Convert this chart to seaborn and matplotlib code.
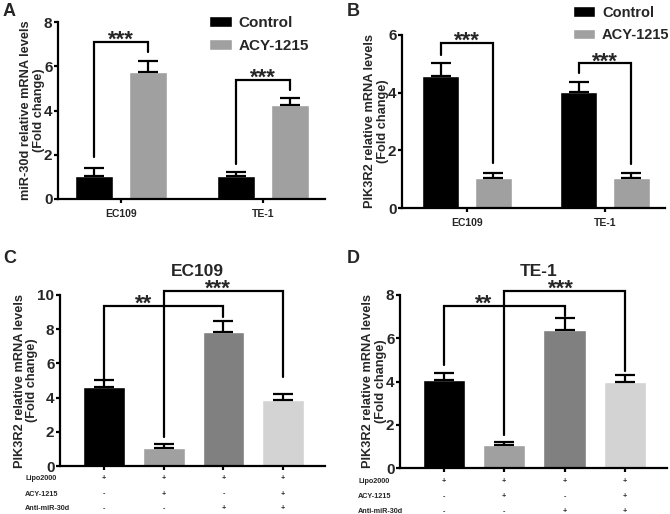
import matplotlib
matplotlib.use("Agg")
import matplotlib.pyplot as plt
import pandas as pd
import seaborn as sns

# panels A and B: two cell lines, control vs ACY-1215
cell_lines = ["EC109", "TE-1"]
treatments = ["Control", "ACY-1215"]
treat_colors = ["#000000", "#a0a0a0"]

a_control = [1.05, 1.05]
a_control_sd = [0.33, 0.17]
a_acy = [5.75, 4.25]
a_acy_sd = [0.47, 0.33]
# (group index, bracket top, left leg bottom, right leg bottom, label)
a_brackets = [(0, 7.1, 1.88, 6.65, "***"), (1, 5.4, 1.56, 4.92, "***")]

b_control = [4.58, 4.04]
b_control_sd = [0.46, 0.34]
b_acy = [1.04, 1.04]
b_acy_sd = [0.19, 0.17]
b_brackets = [(0, 5.73, 5.3, 1.56, "***"), (1, 5.02, 4.69, 1.53, "***")]

# panels C and D: four transfection groups
conditions = ["Lipo2000", "Lipo2000+ACY", "Lipo2000+anti", "Lipo2000+ACY+anti"]
cond_colors = ["#000000", "#a0a0a0", "#808080", "#d3d3d3"]
row_labels = ["Lipo2000", "ACY-1215", "Anti-miR-30d"]
row_lipo = ["+", "+", "+", "+"]
row_acy = ["-", "+", "-", "+"]
row_anti = ["-", "-", "+", "+"]

c_mean = [4.62, 1.07, 7.83, 3.88]
c_sd = [0.43, 0.21, 0.64, 0.35]
# (left bar, right bar, top, left bottom, right bottom, label, label x)
c_brackets = [(0, 2, 9.38, 4.91, 8.74, "**", 0.66), (1, 3, 10.25, 1.71, 5.2, "***", 1.9)]

d_mean = [4.05, 1.05, 6.38, 3.97]
d_sd = [0.33, 0.15, 0.54, 0.31]
d_brackets = [(0, 2, 7.51, 4.78, 7.05, "**", 0.65), (1, 3, 8.2, 1.51, 4.5, "***", 1.94)]

W, H = 670, 514
LW = 1.6

sns.set_style("ticks")
plt.rcParams["font.family"] = ["Liberation Sans", "DejaVu Sans"]
plt.rcParams["font.weight"] = "bold"
plt.rcParams["axes.labelweight"] = "bold"
plt.rcParams["axes.linewidth"] = LW
plt.rcParams["axes.edgecolor"] = "black"

fig = plt.figure(figsize=(W / 100, H / 100), dpi=100)


def px_axes(left, top, right, bottom):
    return fig.add_axes([left / W, (H - bottom) / H, (right - left) / W, (bottom - top) / H])


def style_axes(ax, ymax, ylabel, xsize):
    ax.set_ylim(0, ymax)
    ax.set_yticks(range(0, ymax + 1, 2))
    sns.despine(ax=ax)
    ax.tick_params(axis="both", width=LW, length=3, color="black")
    ax.tick_params(axis="y", labelsize=11, pad=1)
    ax.tick_params(axis="x", labelsize=xsize, pad=4)
    for t in ax.get_yticklabels() + ax.get_xticklabels():
        t.set_fontweight("bold")
    ax.set_xlabel("")
    ax.set_ylabel(ylabel, fontsize=9.2, fontweight="bold", linespacing=1.05, labelpad=-0.5)


def add_errors(ax, xs, means, sds):
    for x, m, s in zip(xs, means, sds):
        ax.errorbar(x, m, yerr=[[0], [s]], fmt="none", ecolor="black",
                    elinewidth=LW, capsize=7, capthick=LW, zorder=3)


def bracket(ax, xl, xr, top, lb, rb, label, lx):
    ax.plot([xl, xl, xr, xr], [lb, top, top, rb], color="black", lw=LW,
            clip_on=False, solid_joinstyle="miter", zorder=4)
    ax.annotate(label, (lx, top), xytext=(0, -3), textcoords="offset points",
                ha="center", va="baseline", fontsize=16, fontweight="bold",
                annotation_clip=False)


def grouped_panel(ax, control, control_sd, acy, acy_sd, brackets, ymax, ylabel, xlim):
    df = pd.DataFrame({
        "line": cell_lines * 2,
        "group": [treatments[0]] * 2 + [treatments[1]] * 2,
        "value": control + acy,
    })
    sns.barplot(data=df, x="line", y="value", hue="group", order=cell_lines,
                hue_order=treatments, palette=treat_colors, saturation=1,
                width=0.76, gap=0.3, errorbar=None, ax=ax)
    centers = []
    for cont, sds in zip(ax.containers, [control_sd, acy_sd]):
        xs = [b.get_x() + b.get_width() / 2 for b in cont]
        hs = [b.get_height() for b in cont]
        add_errors(ax, xs, hs, sds)
        centers.append(xs)
    for g, top, lb, rb, lab in brackets:
        xl, xr = centers[0][g], centers[1][g]
        bracket(ax, xl, xr, top, lb, rb, lab, (xl + xr) / 2)
    ax.set_xlim(*xlim)
    style_axes(ax, ymax, ylabel, 7.5)


def condition_panel(ax, means, sds, brackets, ymax, title, xlim, label_x):
    df = pd.DataFrame({"cond": conditions, "value": means})
    sns.barplot(data=df, x="cond", y="value", hue="cond", order=conditions,
                palette=cond_colors, saturation=1, width=0.7, errorbar=None,
                legend=False, ax=ax)
    bars = sorted(ax.patches, key=lambda b: b.get_x())
    xs = [b.get_x() + b.get_width() / 2 for b in bars]
    add_errors(ax, xs, [b.get_height() for b in bars], sds)
    for l, r, top, lb, rb, lab, lx in brackets:
        bracket(ax, xs[l], xs[r], top, lb, rb, lab, lx)
    ax.set_xlim(*xlim)
    style_axes(ax, ymax, "PIK3R2 relative mRNA levels\n(Fold change)", 7)
    ax.set_xticklabels([])
    ax.set_title(title, fontsize=12.5, fontweight="bold", pad=14, x=0.52)
    trans = ax.get_xaxis_transform()
    for row_y, label, marks in zip([-0.076, -0.164, -0.251], row_labels,
                                   [row_lipo, row_acy, row_anti]):
        ax.text(label_x, row_y, label, transform=ax.transAxes, ha="left",
                va="center", fontsize=5.2, fontweight="bold")
        for x, m in zip(xs, marks):
            ax.text(x, row_y, m, transform=trans, ha="center", va="center",
                    fontsize=5.2, fontweight="bold")


def add_legend(ax, anchor, size):
    h, l = ax.get_legend_handles_labels()
    ax.legend(h, l, frameon=False, loc="upper left", bbox_to_anchor=anchor,
              fontsize=size, handlelength=1.5, handleheight=0.72,
              handletextpad=0.45, labelspacing=0.6, borderpad=0, borderaxespad=0)


ax_a = px_axes(58, 22, 325, 199)
grouped_panel(ax_a, a_control, a_control_sd, a_acy, a_acy_sd, a_brackets, 8,
              "miR-30d relative mRNA levels\n(Fold change)", (-0.444, 1.437))
add_legend(ax_a, (0.565, 1.035), 11)

ax_b = px_axes(402, 35, 665, 208)
grouped_panel(ax_b, b_control, b_control_sd, b_acy, b_acy_sd, b_brackets, 6,
              "PIK3R2 relative mRNA levels\n(Fold change)", (-0.471, 1.435))
add_legend(ax_b, (0.652, 1.17), 10.5)

ax_c = px_axes(60, 295, 325, 466)
condition_panel(ax_c, c_mean, c_sd, c_brackets, 10, "EC109", (-0.737, 3.70), -0.132)

ax_d = px_axes(400, 295, 667, 468)
condition_panel(ax_d, d_mean, d_sd, d_brackets, 8, "TE-1", (-0.73, 3.70), -0.157)

for x, y, letter in [(3, 3, "A"), (347, 3, "B"), (3, 250, "C"), (347, 250, "D")]:
    fig.text(x / W, 1 - y / H, letter, ha="left", va="top", fontsize=13,
             fontweight="bold")

fig.savefig("out.png", dpi=100)
